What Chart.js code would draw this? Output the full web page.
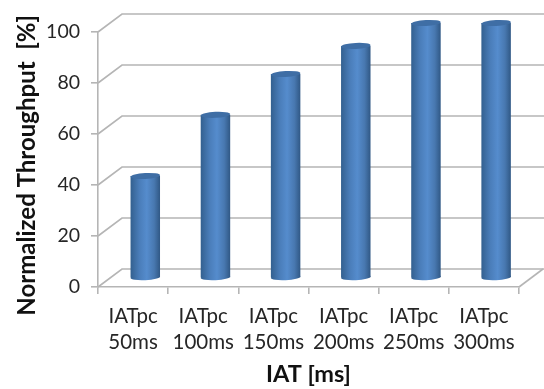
<!DOCTYPE html>
<html>
<head>
<meta charset="utf-8">
<style>
    html, body { margin: 0; padding: 0; background: #fff; }
    canvas { display: block; }
</style>
<script src="https://cdn.jsdelivr.net/npm/chart.js@4"></script>
</head>
<body>
<canvas id="chart" width="544" height="389"></canvas>
<script>
const categories = [['IATpc', '50ms'], ['IATpc', '100ms'], ['IATpc', '150ms'], ['IATpc', '200ms'], ['IATpc', '250ms'], ['IATpc', '300ms']];
const throughput = [40, 64, 80, 91, 100, 100];

const wallX = 24;
const wallY = -18;
const barX = 12.2;
const barY = -9;
const gridColor = '#b5b5b5';

function barGradient(ctx, bar) {
    const half = bar.width / 2;
    const g = ctx.createLinearGradient(bar.x - half, 0, bar.x + half, 0);
    g.addColorStop(0, '#33608f');
    g.addColorStop(0.3, '#4a7db9');
    g.addColorStop(0.55, '#558ccd');
    g.addColorStop(0.8, '#4878b0');
    g.addColorStop(1, '#305885');
    return g;
}

// Back wall, floor and the side lines running back from the y axis
const wallPlugin = {
    id: 'wall',
    beforeDatasetsDraw(chart) {
        const { ctx, chartArea, scales } = chart;
        ctx.save();
        ctx.strokeStyle = gridColor;
        ctx.lineWidth = 1.6;
        scales.y.ticks.forEach(tick => {
            const y = scales.y.getPixelForValue(tick.value);
            ctx.beginPath();
            ctx.moveTo(chartArea.left, y);
            ctx.lineTo(chartArea.left + wallX, y + wallY);
            ctx.lineTo(chart.width, y + wallY);
            ctx.stroke();
        });
        const floor = scales.y.getPixelForValue(0);
        ctx.beginPath();
        ctx.moveTo(chartArea.right, floor);
        ctx.lineTo(chartArea.right + wallX, floor + wallY);
        ctx.stroke();
        ctx.restore();

        // bars need their real position for the shading, so set it here
        chart.getDatasetMeta(0).data.forEach(bar => {
            bar.options = { ...bar.options, backgroundColor: barGradient(ctx, bar) };
        });

        // bars stand in the middle of the floor depth
        ctx.save();
        ctx.translate(barX, barY);
    },
    afterDatasetsDraw(chart) {
        const { ctx } = chart;
        chart.getDatasetMeta(0).data.forEach(bar => {
            const rx = bar.width / 2;
            // rounded foot
            ctx.fillStyle = barGradient(ctx, bar);
            ctx.beginPath();
            ctx.ellipse(bar.x, bar.base, rx, 3, -0.05, 0, Math.PI * 2);
            ctx.fill();
            // top cap
            ctx.fillStyle = '#3f6ea5';
            ctx.beginPath();
            ctx.ellipse(bar.x, bar.y, rx, 3, -0.05, 0, Math.PI * 2);
            ctx.fill();
        });
        ctx.restore();
    }
};

new Chart(document.getElementById('chart').getContext('2d'), {
    type: 'bar',
    data: {
        labels: categories,
        datasets: [{
            data: throughput,
            backgroundColor: '#4a7ebb',
            borderWidth: 0,
            categoryPercentage: 1,
            barPercentage: 0.42,
            clip: false
        }]
    },
    options: {
        responsive: false,
        animation: false,
        layout: { padding: { top: 32, right: 25 } },
        plugins: {
            legend: { display: false },
            title: { display: false },
            tooltip: { enabled: false }
        },
        scales: {
            x: {
                afterFit: scale => { scale.height = 102; },
                grid: { drawOnChartArea: false, color: gridColor, tickLength: 7, lineWidth: 1.6 },
                border: { color: gridColor, width: 1.6 },
                ticks: { color: '#262626', padding: 9, font: { family: 'Lato', size: 20.5, lineHeight: 1.28 }, maxRotation: 0, autoSkip: false },
                title: {
                    display: true,
                    text: 'IAT [ms]',
                    color: '#111',
                    font: { family: 'Lato', size: 23.5, weight: 'bold', lineHeight: 1.2 },
                    padding: { top: 0, bottom: 0 }
                }
            },
            y: {
                min: 0,
                max: 100,
                afterFit: scale => { scale.width = 98; },
                grid: { drawOnChartArea: false, color: gridColor, tickLength: 7, lineWidth: 1.6 },
                border: { color: gridColor, width: 1.6 },
                ticks: { stepSize: 20, color: '#262626', padding: 11, font: { family: 'Lato', size: 19.5 } },
                title: {
                    display: true,
                    // trailing spaces nudge the title down along the axis
                    text: 'Normalized Throughput  [%]  ',
                    color: '#111',
                    font: { family: 'Lato', size: 24, weight: 'bold', lineHeight: 1.2 },
                    padding: { top: 13, bottom: 0 }
                }
            }
        }
    },
    plugins: [wallPlugin]
});
</script>
</body>
</html>
